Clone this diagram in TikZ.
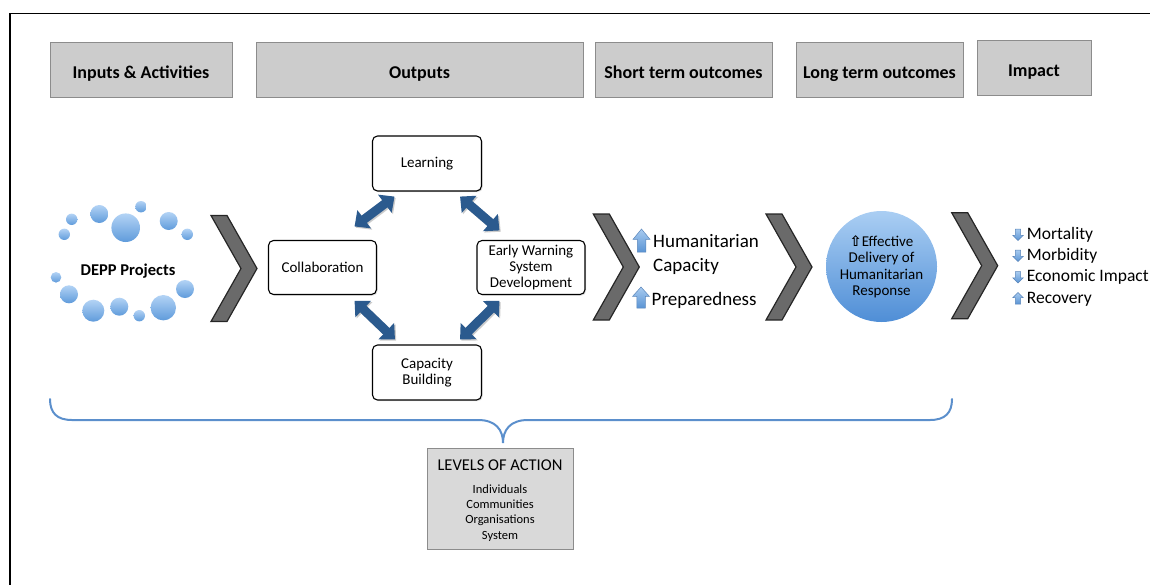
\documentclass[tikz,border=0pt]{standalone}
\usepackage{fontspec}
\setmainfont{Carlito}
\newfontfamily\symfont{DejaVu Sans}
\usetikzlibrary{arrows.meta,shadows}
\definecolor{hdrfill}{HTML}{CCCCCC}
\definecolor{hdrline}{HTML}{8C8C8C}
\definecolor{chevfill}{HTML}{6A6A6A}
\definecolor{chevline}{HTML}{262626}
\definecolor{arrblue}{HTML}{2B5A8E}
\definecolor{bracecol}{HTML}{5B8FCC}
\definecolor{bubtop}{HTML}{B3D3F5}
\definecolor{bubbot}{HTML}{5F9BDB}
\definecolor{circtop}{HTML}{AACEF3}
\definecolor{circbot}{HTML}{4F8ED6}
\definecolor{icontop}{HTML}{A8CBF0}
\definecolor{iconbot}{HTML}{5A94D4}
\definecolor{iconline}{HTML}{5B86BA}
\definecolor{lvlfill}{HTML}{D9D9D9}
\tikzset{
  hdr/.style={draw=hdrline, fill=hdrfill, line width=1pt, minimum height=55, inner sep=0,
    text height=20pt, text depth=3pt,
    font=\fontsize{18}{22}\selectfont\bfseries},
  outbox/.style={draw=black, fill=white, rounded corners=5, line width=1.1pt,
    minimum width=109, minimum height=55, align=center, inner sep=2,
    font=\fontsize{15}{16}\selectfont,
    drop shadow={shadow xshift=1.2pt, shadow yshift=-1.2pt, opacity=0.25}},
  bluearr/.style={draw=arrblue, line width=9pt,
    {Triangle[length=12pt,width=22pt]}-{Triangle[length=12pt,width=22pt]}},
  shadarr/.style={draw=black!45, opacity=0.45, line width=9pt,
    transform canvas={shift={(1.3pt,-1.3pt)}},
    {Triangle[length=12pt,width=22pt]}-{Triangle[length=12pt,width=22pt]}},
  txt/.style={inner sep=0, anchor=west},
  chev/.pic={\draw[draw=chevline, fill=chevfill, line width=1.2pt, line join=miter]
    (0,53) -- (16,53) -- (46,0) -- (16,-53) -- (0,-53) -- (30,0) -- cycle;},
  uparrow/.pic={\shade[top color=icontop, bottom color=iconbot, draw=iconline, line width=0.5pt]
    (0,0) -- (0.5,-0.45) -- (0.25,-0.45) -- (0.25,-1) -- (-0.25,-1) -- (-0.25,-0.45) -- (-0.5,-0.45) -- cycle;},
}
\newcommand\blarrow[2]{\draw[shadarr] #1 -- #2; \draw[bluearr] #1 -- #2;}
\begin{document}
\begin{tikzpicture}[x=1pt,y=1pt]
\useasboundingbox (0,0) rectangle (1150,-584);
\clip (0,0) rectangle (1150,-584);
% frame
\draw[line width=1.5pt] (10,-620) -- (10,-13.5) -- (1170,-13.5);

% headers
\node[hdr, minimum width=182] (h1) at (141,-69.5) {Inputs \& Activities};
\node[hdr, minimum width=327] (h2) at (419.5,-69.5) {Outputs};
\node[hdr, minimum width=177] (h3) at (683.5,-69.5) {Short term outcomes};
\node[hdr, minimum width=167] (h4) at (879.5,-69.5) {Long term outcomes};
\node[hdr, minimum width=114] (h5) at (1034,-67.5) {Impact};

% bubbles
\foreach \bx/\by/\br in {71.7/219.3/5.7, 99.3/214/9, 125.7/227.7/14.3, 141/206.7/5.7,
  168.7/221/9, 187.3/234.3/5.7, 64.3/234.3/5.7, 56/277.3/5.3, 69/294.3/9, 93.3/310.7/11,
  119.3/306.7/9, 139.3/315.7/5.7, 163.3/307.7/12.7, 185/289/9}
  \shade[top color=bubtop, bottom color=bubbot] (\bx,-\by) circle (\br);
\node[inner sep=0, font=\fontsize{16.5}{20}\selectfont\bfseries] (depp) at (128,-271) {DEPP Projects};

% chevrons
\pic at (211,-268.5) {chev};
\pic at (593.3,-267) {chev};
\pic at (766,-267) {chev};
\pic at (951.7,-265.7) {chev};

% outputs
\node[outbox] (learn) at (427,-163.5) {Learning};
\node[outbox, minimum width=108, minimum height=54] (collab) at (322.5,-267.5) {Collaboration};
\node[outbox, minimum width=108, minimum height=54] (ews) at (531,-267.5) {Early Warning\\System\\Development};
\node[outbox] (cap) at (427,-372.5) {Capacity\\Building};

\blarrow{([shift={(-22.5,13.5)}]collab.north east)}{([shift={(22.5,-5)}]learn.south west)}
\blarrow{([shift={(-22,-5)}]learn.south east)}{([shift={(23,9.5)}]ews.north west)}
\blarrow{([shift={(-22.5,-5.7)}]collab.south east)}{([shift={(23,5)}]cap.north west)}
\blarrow{([shift={(23,-5.7)}]ews.south west)}{([shift={(-22,5)}]cap.north east)}

% short term outcomes
\pic[xscale=17, yscale=23] at (641.5,-229) {uparrow};
\pic[xscale=17, yscale=21] at (641,-287) {uparrow};
\node[txt, align=left, font=\fontsize{19}{23.3}\selectfont] (hum) at (653,-254.5) {Humanitarian\\Capacity};
\node[txt, font=\fontsize{19}{23}\selectfont] (prep) at (651.5,-300.7) {Preparedness};

% long term outcome
\node[circle, minimum size=111, inner sep=0, top color=circtop, bottom color=circbot,
  align=center, font=\fontsize{15}{16.5}\selectfont] (resp) at (881.5,-266.5)
  {{\symfont\bfseries\fontsize{14.5}{16.5}\selectfont ⇧}Effective\\Delivery of\\Humanitarian\\Response};

% impact
\pic[xscale=10.6, yscale=-11.5] at (1018,-240.5) {uparrow};
\pic[xscale=10.6, yscale=-11.5] at (1018,-261.5) {uparrow};
\pic[xscale=10.6, yscale=-11.5] at (1018,-283) {uparrow};
\pic[xscale=10.6, yscale=11.5] at (1018,-292.5) {uparrow};
\node[txt, font=\fontsize{17.5}{21}\selectfont] (mort) at (1026.7,-235) {Mortality};
\node[txt, font=\fontsize{17.5}{21}\selectfont] (morb) at (1026.7,-255.7) {Morbidity};
\node[txt, font=\fontsize{17.5}{21}\selectfont] (econ) at (1026.7,-277.3) {Economic Impact};
\node[txt, font=\fontsize{17.5}{21}\selectfont] (reco) at (1026.7,-299.3) {Recovery};

% brace
\draw[bracecol, line width=2pt, line cap=round]
  (50,-399) .. controls (50,-413) and (57,-420) .. (72,-420) -- (478,-420)
  .. controls (496,-420) and (503,-430) .. (503,-443)
  .. controls (503,-430) and (510,-420) .. (528,-420) -- (930,-420)
  .. controls (945,-420) and (952,-413) .. (952,-399);

% levels of action
\node[draw=hdrline, fill=lvlfill, line width=1pt, minimum width=146, minimum height=101, inner sep=0] (lvl) at (500,-499) {};
\node[inner sep=0, font=\fontsize{16.5}{20}\selectfont] (lvltitle) at (500,-465) {LEVELS OF ACTION};
\node[inner sep=0, align=center, font=\fontsize{12.5}{15.3}\selectfont] (lvllist) at (500,-513) {Individuals\\Communities\\Organisations\\System};
\end{tikzpicture}
\end{document}
